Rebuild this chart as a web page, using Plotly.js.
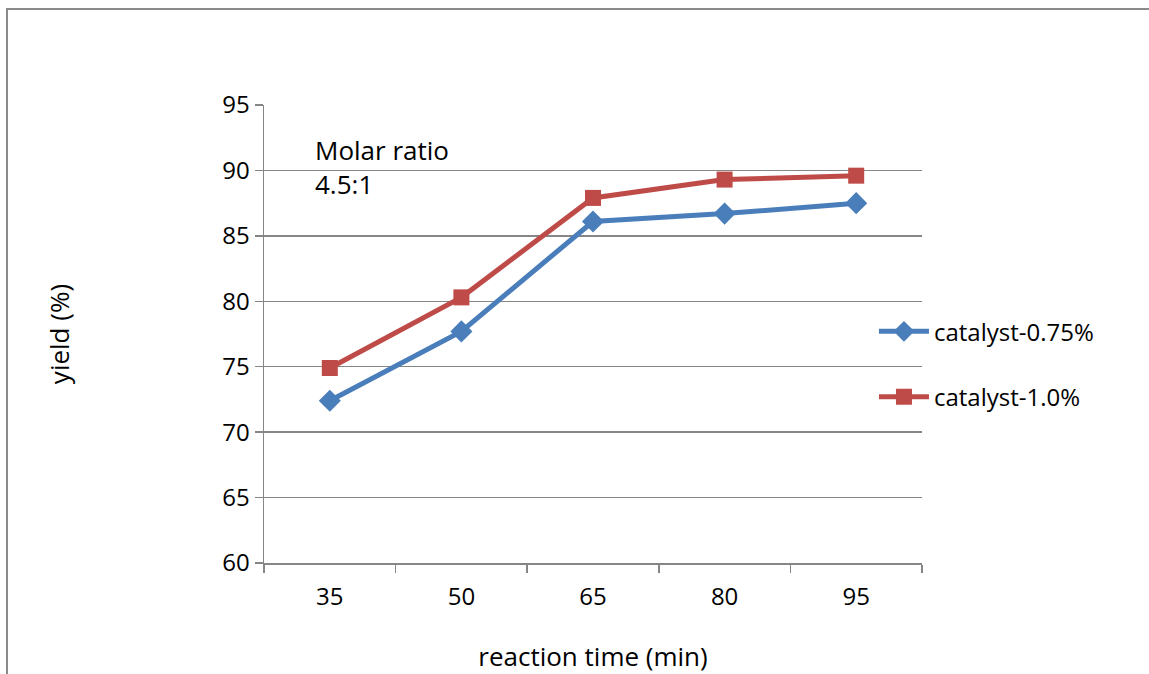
<!DOCTYPE html>
<html>
<head>
<meta charset="utf-8">
<script src="https://cdn.plot.ly/plotly-3.0.1.min.js"></script>
<style>
  html, body { margin: 0; padding: 0; background: #fff; }
  #chart { width: 1149px; height: 674px; }
  #frame { position: absolute; left: 6px; top: 8px; width: 1143px; height: 666px;
           border-left: 2px solid #8a8a8a; border-top: 2px solid #8a8a8a; pointer-events: none; }
</style>
</head>
<body>
<div id="chart"></div>
<div id="frame"></div>
<script>
const categories = ["35", "50", "65", "80", "95"];
const catalyst075 = [72.4, 77.7, 86.1, 86.7, 87.5];
const catalyst100 = [74.9, 80.3, 87.9, 89.3, 89.6];
const seriesNames = ["catalyst-0.75%", "catalyst-1.0%"];
const yTicks = [60, 65, 70, 75, 80, 85, 90, 95];

const FONT = "Open Sans, Lato, sans-serif";
const gridColor = "#868686";

const traces = [
  {
    x: categories, y: catalyst075, name: seriesNames[0], type: "scatter", mode: "lines+markers",
    line: { color: "#4A7EBB", width: 5 },
    marker: { symbol: "diamond", size: 17, color: "#4A7EBB" },
    legend: "legend"
  },
  {
    x: categories, y: catalyst100, name: seriesNames[1], type: "scatter", mode: "lines+markers",
    line: { color: "#BE4B48", width: 5 },
    marker: { symbol: "square", size: 16, color: "#BE4B48" },
    legend: "legend2"
  }
];

const legendBase = {
  xanchor: "left", yanchor: "middle",
  bgcolor: "rgba(0,0,0,0)", borderwidth: 0,
  font: { family: FONT, size: 24, color: "#000" },
  itemwidth: 50
};

const layout = {
  width: 1149, height: 674,
  margin: { l: 264, r: 227, t: 105, b: 111 },
  paper_bgcolor: "#fff", plot_bgcolor: "#fff",
  font: { family: FONT, size: 24, color: "#000" },
  xaxis: {
    type: "category",
    range: [-0.5, 4.5],
    tickson: "boundaries",
    ticks: "outside", ticklen: 8, tickwidth: 1.5, tickcolor: gridColor,
    showline: true, linecolor: gridColor, linewidth: 1.5,
    showgrid: false, zeroline: false,
    ticklabelstandoff: 12,
    tickfont: { family: FONT, size: 24, color: "#000" },
    title: { text: "reaction time (min)", font: { family: FONT, size: 26, color: "#000" }, standoff: 36 },
    automargin: false, fixedrange: true
  },
  yaxis: {
    range: [60, 95],
    tickvals: yTicks,
    ticks: "outside", ticklen: 8, tickwidth: 1.5, tickcolor: gridColor,
    showline: true, linecolor: gridColor, linewidth: 1.5,
    showgrid: true, gridcolor: gridColor, gridwidth: 1.5,
    zeroline: false,
    tickfont: { family: FONT, size: 24, color: "#000" },
    title: { text: "yield (%)", font: { family: FONT, size: 26, color: "#000" }, standoff: 145 },
    automargin: false, fixedrange: true
  },
  showlegend: true,
  legend: Object.assign({}, legendBase, { x: 0.927, y: 0.505 }),
  legend2: Object.assign({}, legendBase, { x: 0.927, y: 0.362 }),
  annotations: [
    {
      xref: "paper", yref: "paper", x: 0.075, y: 0.946,
      xanchor: "left", yanchor: "top", align: "left", showarrow: false,
      text: "Molar ratio<br>4.5:1",
      font: { family: FONT, size: 26, color: "#000" }
    }
  ]
};

Plotly.newPlot("chart", traces, layout, { displayModeBar: false, staticPlot: true });
</script>
</body>
</html>
